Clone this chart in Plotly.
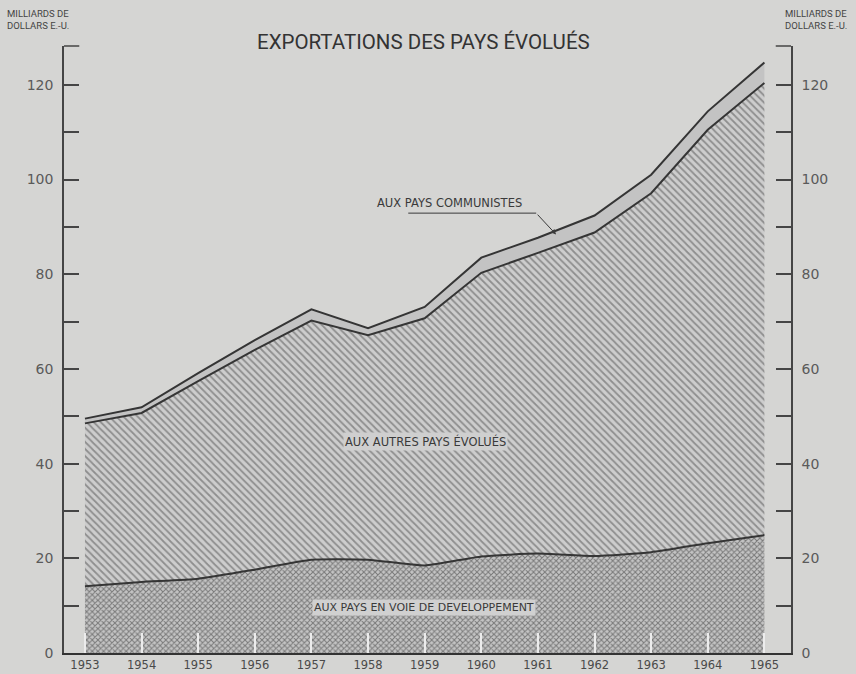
import plotly.graph_objects as go

# ---- data (billions of US dollars) ----
years = list(range(1953, 1966))
developing = [14.1, 15.0, 15.7, 17.6, 19.7, 19.7, 18.5, 20.4, 21.0, 20.5, 21.3, 23.2, 24.9]
other_developed = [34.4, 35.7, 41.7, 46.4, 50.5, 47.4, 52.2, 59.9, 63.5, 68.3, 75.8, 87.3, 95.5]
communist = [1.0, 1.2, 1.7, 2.1, 2.4, 1.5, 2.4, 3.2, 3.2, 3.6, 3.9, 3.9, 4.3]
y_tickvals = list(range(0, 130, 10))
y_ticktext = [str(v) if v % 20 == 0 else "" for v in y_tickvals]

BG = "#d5d5d3"
INK = "#353535"
LABEL = "#5a5a5a"

fig = go.Figure()
fig.add_trace(go.Scatter(
    x=years, y=developing, stackgroup="s", mode="lines",
    line=dict(color=INK, width=2, shape="spline", smoothing=0.5),
    fillcolor="#bdbdbd",
    fillpattern=dict(shape="x", fgcolor="#7a7a7a", bgcolor="#c4c4c4", size=4, solidity=0.45),
    hoverinfo="skip",
))
fig.add_trace(go.Scatter(
    x=years, y=other_developed, stackgroup="s", mode="lines",
    line=dict(color=INK, width=2),
    fillcolor="#c8c8c8",
    fillpattern=dict(shape="\\", fgcolor="#8e8e8e", bgcolor="#cdcdcd", size=5, solidity=0.35),
    hoverinfo="skip",
))
fig.add_trace(go.Scatter(
    x=years, y=communist, stackgroup="s", mode="lines",
    line=dict(color=INK, width=2),
    fillcolor="#c3c3c3",
    hoverinfo="skip",
))
# invisible trace so that the right-hand axis is drawn
fig.add_trace(go.Scatter(x=years, y=developing, yaxis="y2", mode="lines",
                         line=dict(width=0), opacity=0, hoverinfo="skip"))

axis_font = dict(family="DejaVu Sans", size=14, color=LABEL)
yax = dict(range=[0, 128.2], tickvals=y_tickvals, ticktext=y_ticktext,
           ticks="inside", ticklen=15, tickwidth=1.5, tickcolor="#454545",
           showline=True, linecolor="#454545", linewidth=1.5,
           showgrid=False, zeroline=False, tickfont=axis_font,
           ticklabelstandoff=6, automargin=False, fixedrange=True)

fig.update_layout(
    width=856, height=674,
    margin=dict(l=64, r=65, t=46, b=21),
    paper_bgcolor=BG, plot_bgcolor=BG,
    showlegend=False,
    template="none",
    xaxis=dict(range=[1952.63, 1965.47], tickvals=years,
               ticks="inside", ticklen=20, tickwidth=1.5, tickcolor="#ececec",
               showline=True, linecolor="#333333", linewidth=2,
               showgrid=False, zeroline=False,
               tickfont=dict(family="DejaVu Sans", size=11.5, color="#4a4a4a"),
               automargin=False, fixedrange=True),
    yaxis=yax,
    yaxis2=dict(yax, overlaying="y", side="right", anchor="x"),
    hovermode=False,
)

lab = dict(family="DejaVu Sans", color="#3a3a3a")
fig.add_annotation(text="EXPORTATIONS DES PAYS ÉVOLUÉS", xref="paper", yref="paper",
                   x=0.494, y=1.007, showarrow=False, yanchor="middle",
                   font=dict(family="Roboto", size=20.5, color="#333333"))
for xp in (-0.036, 1.035):
    fig.add_annotation(text="MILLIARDS DE<br>DOLLARS E.-U.", xref="paper", yref="paper",
                       x=xp, y=1.043, showarrow=False, xanchor="center", yanchor="middle",
                       align="left", font=dict(family="Roboto", size=9.5, color="#444444"))

fig.add_annotation(text="AUX PAYS COMMUNISTES", x=1959.43, y=95.0, showarrow=False,
                   font=dict(lab, size=11.5))
fig.add_annotation(text="AUX AUTRES PAYS ÉVOLUÉS", x=1959.01, y=44.7, showarrow=False,
                   bgcolor="#cfcfcf", font=dict(lab, size=11.5))
fig.add_annotation(text="AUX PAYS EN VOIE DE DEVELOPPEMENT", x=1958.99, y=9.6, showarrow=False,
                   bgcolor="#d0d0d0", font=dict(lab, size=11))
# leader for the communist band
fig.add_shape(type="line", x0=1958.71, x1=1960.97, y0=92.9, y1=92.9,
              line=dict(color="#3a3a3a", width=1))
fig.add_annotation(text="", x=1961.32, y=88.4, ax=1960.97, ay=92.9,
                   axref="x", ayref="y", showarrow=True, arrowhead=2,
                   arrowsize=1, arrowwidth=1, arrowcolor="#3a3a3a")
# small hooks at the top of both vertical axes
fig.add_shape(type="line", xref="paper", yref="paper", x0=0, x1=0.021, y0=1, y1=1,
              line=dict(color="#454545", width=1.5))
fig.add_shape(type="line", xref="paper", yref="paper", x0=0.979, x1=1, y0=1, y1=1,
              line=dict(color="#454545", width=1.5))

fig.write_html("out.html", config={"displayModeBar": False},
               post_script="document.body.style.margin='0';document.body.style.overflow='hidden';")
